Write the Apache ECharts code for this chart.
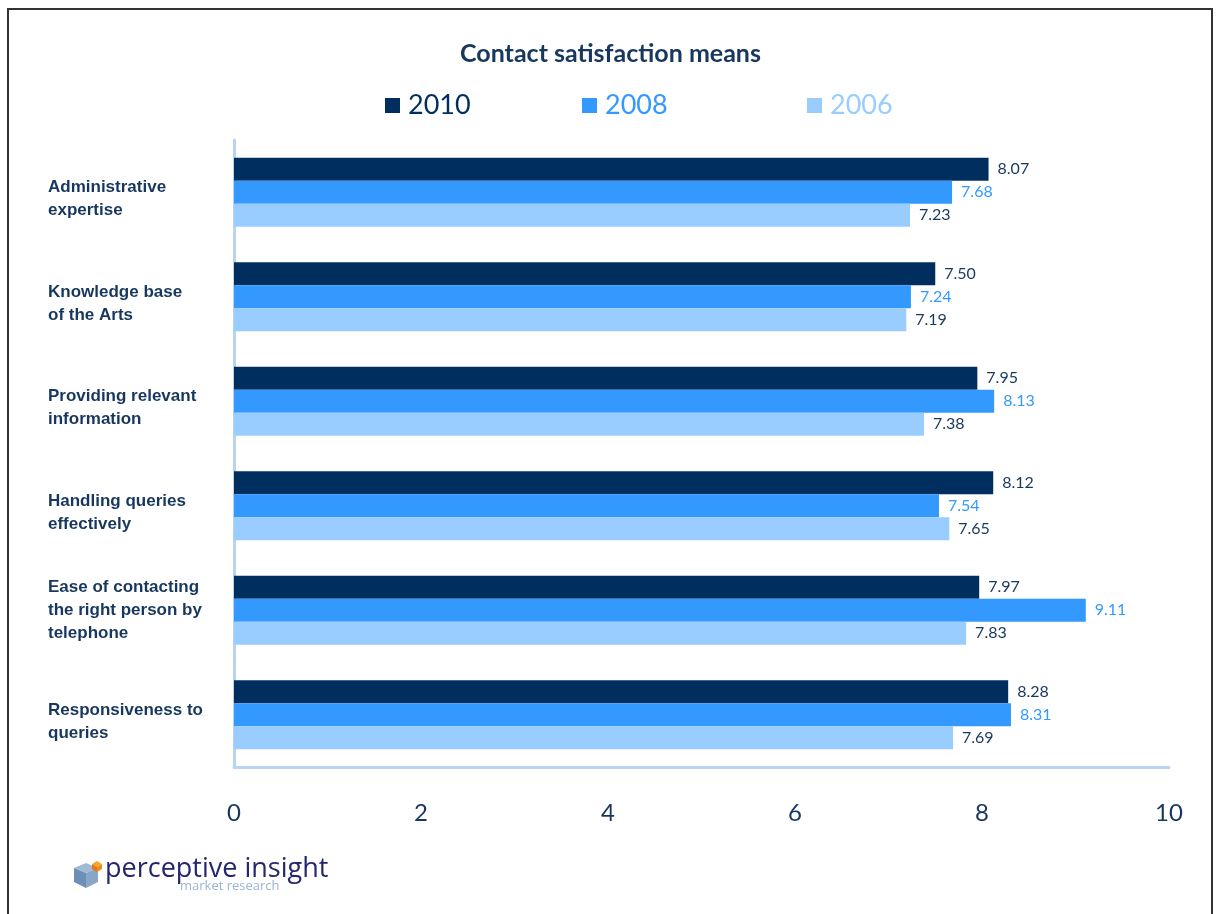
<!DOCTYPE html>
<html>
<head>
<meta charset="utf-8">
<script src="https://cdn.jsdelivr.net/npm/echarts@6/dist/echarts.min.js"></script>
<style>
html,body{margin:0;padding:0;background:#fff;}
#chart{width:1221px;height:914px;}
</style>
</head>
<body>
<div id="chart"></div>
<script>
var categories = [
  "Administrative\nexpertise",
  "Knowledge base\nof the Arts",
  "Providing relevant\ninformation",
  "Handling queries\neffectively",
  "Ease of contacting\nthe right person by\ntelephone",
  "Responsiveness to\nqueries"
];
var values2010 = [8.07, 7.50, 7.95, 8.12, 7.97, 8.28];
var values2008 = [7.68, 7.24, 8.13, 7.54, 9.11, 8.31];
var values2006 = [7.23, 7.19, 7.38, 7.65, 7.83, 7.69];
var seriesNames = ["2010", "2008", "2006"];
var titleText = "Contact satisfaction means";

var navy = "#002f5f";
var blue = "#3399ff";
var light = "#99ccff";
var textNavy = "#17375e";

var chart = echarts.init(document.getElementById('chart'), null, {renderer: 'canvas'});

function makeSeries(name, data, color, labelColor) {
  return {
    name: name,
    type: 'bar',
    data: data,
    barGap: '0%',
    barCategoryGap: '34%',
    itemStyle: {color: color},
    label: {
      show: true,
      position: 'right',
      distance: 9,
      color: labelColor,
      fontFamily: 'Lato',
      fontSize: 16,
      padding: [3, 0, 0, 0],
      formatter: function (p) { return p.value.toFixed(2); }
    }
  };
}

function legendFor(name, left, color) {
  return {
    data: [{name: name, textStyle: {color: color}}],
    left: left,
    top: 92,
    padding: 0,
    icon: 'rect',
    itemWidth: 15,
    itemHeight: 15,
    selectedMode: false,
    textStyle: {fontFamily: 'Lato', fontSize: 27, color: color, padding: [0, 0, 0, 3]}
  };
}

var option = {
  backgroundColor: '#ffffff',
  animation: false,
  title: {
    text: titleText,
    left: 'center',
    top: 36,
    textStyle: {fontFamily: 'Lato', fontWeight: 'bold', fontSize: 25, color: textNavy}
  },
  legend: [
    legendFor(seriesNames[0], 385, navy),
    legendFor(seriesNames[1], 582, blue),
    legendFor(seriesNames[2], 807, light)
  ],
  grid: {left: 234, right: 52, top: 140, bottom: 147, containLabel: false},
  xAxis: {
    type: 'value',
    min: 0,
    max: 10,
    interval: 2,
    axisLine: {show: true, lineStyle: {color: '#b8d4f2', width: 3}},
    axisTick: {show: false},
    splitLine: {show: false},
    axisLabel: {fontFamily: 'Lato', fontSize: 24, color: textNavy, margin: 34}
  },
  yAxis: {
    type: 'category',
    inverse: true,
    data: categories,
    axisLine: {show: true, lineStyle: {color: '#b8d4f2', width: 3}},
    axisTick: {show: false},
    axisLabel: {
      fontFamily: 'Liberation Sans, Arial, sans-serif',
      fontWeight: 'bold',
      fontSize: 17,
      lineHeight: 23,
      color: textNavy,
      align: 'left',
      margin: 186,
      formatter: function (v) {
        var lines = v.split('\n');
        var out = lines.map(function (l) { return '{a|' + l + '}'; }).join('\n');
        if (lines.length === 2) { out = '{s| }\n' + out; }
        return out;
      },
      rich: {
        a: {
          fontFamily: 'Liberation Sans, Arial, sans-serif',
          fontWeight: 'bold',
          fontSize: 17,
          lineHeight: 23,
          color: textNavy,
          align: 'left'
        },
        s: {fontSize: 1, lineHeight: 14, height: 14}
      }
    }
  },
  series: [
    makeSeries(seriesNames[0], values2010, navy, textNavy),
    makeSeries(seriesNames[1], values2008, blue, blue),
    makeSeries(seriesNames[2], values2006, light, textNavy)
  ],
  graphic: [
    {
      type: 'polyline',
      silent: true,
      shape: {points: [[8, 920], [8, 9], [1212, 9], [1212, 920]]},
      style: {stroke: '#333333', lineWidth: 2, fill: null}
    },
    {
      type: 'group',
      left: 74,
      top: 856,
      children: [
        {type: 'polygon', shape: {points: [[2, 8], [14, 3], [26, 8], [14, 13]]}, style: {fill: '#9fb9d6'}},
        {type: 'polygon', shape: {points: [[2, 8], [14, 13], [14, 28], [2, 22]]}, style: {fill: '#6e8fb5'}},
        {type: 'polygon', shape: {points: [[14, 13], [26, 8], [26, 22], [14, 28]]}, style: {fill: '#88a6c8'}},
        {type: 'polygon', shape: {points: [[20, 4], [25, 1], [30, 4], [25, 7]]}, style: {fill: '#f6a623'}},
        {type: 'polygon', shape: {points: [[20, 4], [25, 7], [25, 12], [20, 9]]}, style: {fill: '#e8741c'}},
        {type: 'polygon', shape: {points: [[25, 7], [30, 4], [30, 9], [25, 12]]}, style: {fill: '#f08a1e'}},
        {type: 'text', left: 33, top: -4, style: {text: 'perceptive insight', font: '27px "Open Sans", sans-serif', fill: '#252570'}},
        {type: 'text', left: 108, top: 20, style: {text: 'market research', font: '13px "Open Sans", sans-serif', fill: '#9ab4d8'}}
      ]
    }
  ]
};
chart.setOption(option);
</script>
</body>
</html>
